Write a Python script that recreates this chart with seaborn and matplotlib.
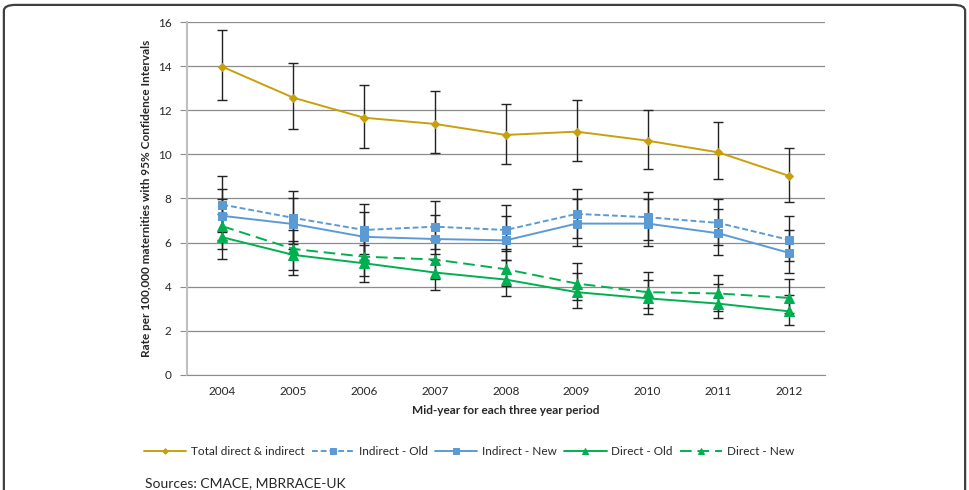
import numpy as np
import pandas as pd
import seaborn as sns
import matplotlib.pyplot as plt
from matplotlib.patches import FancyBboxPatch

# données
years = [2004, 2005, 2006, 2007, 2008, 2009, 2010, 2011, 2012]

total = [13.97, 12.57, 11.66, 11.38, 10.88, 11.03, 10.62, 10.09, 9.02]
total_lo = [12.47, 11.13, 10.30, 10.08, 9.58, 9.72, 9.35, 8.87, 7.83]
total_hi = [15.64, 14.13, 13.15, 12.86, 12.30, 12.45, 12.03, 11.45, 10.30]

ind_old = [7.72, 7.12, 6.57, 6.72, 6.57, 7.30, 7.15, 6.89, 6.12]
ind_old_lo = [6.50, 5.95, 5.50, 5.70, 5.60, 6.21, 6.13, 5.87, 5.15]
ind_old_hi = [9.00, 8.32, 7.75, 7.87, 7.69, 8.45, 8.30, 7.99, 7.19]

ind_new = [7.21, 6.84, 6.26, 6.16, 6.10, 6.86, 6.86, 6.42, 5.53]
ind_new_lo = [6.10, 5.70, 5.20, 5.20, 5.20, 5.83, 5.83, 5.44, 4.62]
ind_new_hi = [8.43, 8.02, 7.39, 7.27, 7.19, 7.98, 7.98, 7.52, 6.55]

dir_old = [6.24, 5.44, 5.06, 4.64, 4.32, 3.75, 3.47, 3.23, 2.88]
dir_old_lo = [5.27, 4.55, 4.23, 3.87, 3.56, 3.04, 2.78, 2.58, 2.28]
dir_old_hi = [7.30, 6.07, 5.90, 5.50, 5.20, 4.60, 4.30, 4.10, 3.60]

dir_new = [6.74, 5.71, 5.36, 5.23, 4.79, 4.14, 3.75, 3.69, 3.49]
dir_new_lo = [5.71, 4.74, 4.47, 4.35, 4.02, 3.41, 3.04, 2.88, 2.80]
dir_new_hi = [7.98, 6.55, 6.30, 6.10, 5.70, 5.08, 4.65, 4.55, 4.35]

labels = ['Total direct & indirect', 'Indirect - Old', 'Indirect - New',
          'Direct - Old', 'Direct - New']
series = [(total, total_lo, total_hi), (ind_old, ind_old_lo, ind_old_hi),
          (ind_new, ind_new_lo, ind_new_hi), (dir_old, dir_old_lo, dir_old_hi),
          (dir_new, dir_new_lo, dir_new_hi)]

colors = ['#C9A00C', '#5B9BD5', '#5B9BD5', '#00B050', '#00B050']
markers = ['D', 's', 's', '^', '^']
msizes = [4, 6, 6, 7, 7]
dashes = [None, (3, 1.5), None, None, (6, 3)]

sns.set_style('white')
plt.rcParams['font.family'] = ['Lato', 'DejaVu Sans']

fig = plt.figure(figsize=(9.69, 4.9), dpi=100)
ax = fig.add_axes([0.193, 0.235, 0.658, 0.72])

for lab, (v, lo, hi), c, m, ms, d in zip(labels, series, colors, markers, msizes, dashes):
    df = pd.DataFrame({'annee': years, 'taux': v})
    ax.errorbar(years, v, yerr=[np.array(v) - np.array(lo), np.array(hi) - np.array(v)],
                fmt='none', ecolor='#222222', elinewidth=1, capsize=3.5, capthick=1, zorder=2)
    sns.lineplot(data=df, x='annee', y='taux', ax=ax, color=c, marker=m,
                 markersize=ms, markeredgecolor=c, linewidth=1.4, label=lab, zorder=3)
    line = ax.lines[-1]
    if d is not None:
        line.set_dashes(d)

ax.set_xlim(2003.5, 2012.5)
ax.set_ylim(0, 16)
ax.set_yticks(range(0, 17, 2))
ax.set_xticks(years)
ax.set_xticklabels([str(y) for y in years])
ax.yaxis.grid(True, color='#8c8c8c', linewidth=0.9)
ax.xaxis.grid(False)
for s in ['top', 'right']:
    ax.spines[s].set_visible(False)
ax.spines['left'].set_color('#bfbfbf')
ax.spines['left'].set_linewidth(1.5)
ax.spines['bottom'].set_color('#8c8c8c')
ax.tick_params(axis='y', length=5, color='#8c8c8c', labelsize=8.5, left=True, pad=6)
ax.tick_params(axis='x', length=0, labelsize=8.5, pad=8)
ax.set_xlabel('Mid-year for each three year period', fontsize=8.5, fontweight='bold', labelpad=6)
ax.set_ylabel('Rate per 100,000 maternities with 95% Confidence Intervals',
              fontsize=8.5, fontweight='bold', labelpad=4)

handles, labs = ax.get_legend_handles_labels()
ax.get_legend().remove()
fig.legend(handles, labs, loc='center', bbox_to_anchor=(0.484, 0.078), ncol=5,
           frameon=False, fontsize=8.5, handlelength=3.6, columnspacing=0.6,
           handletextpad=0.4, markerscale=0.7)

fig.text(0.15, 0.002, 'Sources: CMACE, MBRRACE-UK', fontsize=10, va='bottom', ha='left')

frame = FancyBboxPatch((0.004, -0.2), 0.992, 1.19, boxstyle='round,pad=0,rounding_size=0.012',
                       transform=fig.transFigure, fill=False, edgecolor='#404040', linewidth=1.6)
fig.patches.append(frame)

fig.savefig('out.png', dpi=100)
